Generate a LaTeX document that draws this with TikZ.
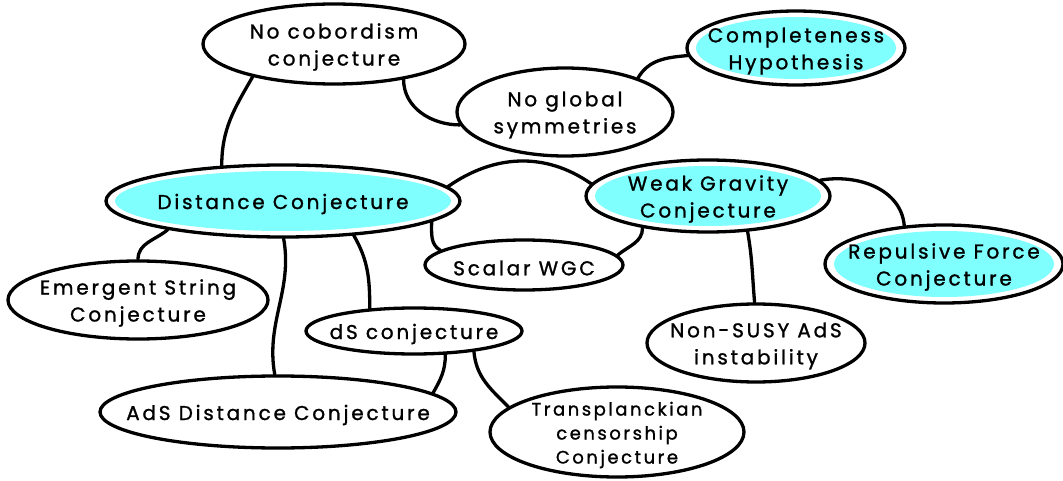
\documentclass[tikz,border=0pt]{standalone}
\usepackage{fontspec}
\setmainfont{Poppins}[LetterSpace=14, FakeBold=1.2]
\usetikzlibrary{shapes.geometric,calc}
\definecolor{hl}{RGB}{128,255,255}
\begin{document}
\begin{tikzpicture}[line width=3.3pt,
  bub/.style={ellipse, draw=black, inner sep=0pt},
  txt/.style={align=center, inner sep=0pt, yshift=-3pt, font=\fontsize{20}{27}\selectfont},
  hlbub/.style={bub, path picture={\fill[hl] let \p1=(path picture bounding box.north east), \p2=(path picture bounding box.center) in (\p2) ellipse [x radius={\x1-\x2-9pt}, y radius={\y1-\y2-6pt}];}},
  link/.style={line cap=round}]
\useasboundingbox (0,0) rectangle (1063pt,-481pt);
\begin{scope}[x=1pt,y=1pt]
\node[bub, minimum width=262pt, minimum height=80pt, label={[txt]center:{No cobordism\\conjecture}}] (nocob) at (334,-44) {};
\node[hlbub, minimum width=218pt, minimum height=74pt, label={[txt]center:{Completeness\\Hypothesis}}] (compl) at (796,-48) {};
\node[bub, minimum width=216pt, minimum height=88pt, label={[txt]center:{No global\\symmetries}}] (noglob) at (565,-112) {};
\node[hlbub, minimum width=354pt, minimum height=72pt, label={[txt]center:{Distance Conjecture}}] (dist) at (283,-201) {};
\node[hlbub, minimum width=244pt, minimum height=72pt, label={[txt]center:{Weak Gravity\\Conjecture}}] (wgc) at (708,-196) {};
\node[hlbub, minimum width=238pt, minimum height=78pt, label={[txt]center:{Repulsive Force\\Conjecture}}] (rfc) at (944,-264) {};
\node[bub, minimum width=198pt, minimum height=50pt, label={[txt]center:{Scalar WGC}}] (swgc) at (524,-265) {};
\node[bub, minimum width=260pt, minimum height=78pt, label={[txt]center:{Emergent String\\Conjecture}}] (esc) at (138,-300) {};
\node[bub, minimum width=216pt, minimum height=46pt, label={[txt]center:{dS conjecture}}] (ds) at (414,-331) {};
\node[bub, minimum width=218pt, minimum height=78pt, label={[txt]center:{Non-SUSY AdS\\instability}}] (nsads) at (756,-343) {};
\node[bub, minimum width=356pt, minimum height=72pt, label={[txt]center:{AdS Distance Conjecture}}] (adsd) at (278,-412) {};
\node[bub, minimum width=254pt, minimum height=90pt, label={[txt, font=\fontsize{18}{24}\selectfont]center:{Transplanckian\\censorship\\Conjecture}}] (tcc) at (617,-432) {};

\draw[link] (nocob.202) to[out=240,in=90] (dist.150);
\draw[link] (nocob.333) to[out=-90,in=180] (noglob.187);
\draw[link] (noglob.25) to[out=60,in=185] (compl.184);
\draw[link] (dist.5) to[out=35,in=145] (wgc.174);
\draw[link] (dist.352) to[out=-90,in=150] (swgc.170);
\draw[link] (wgc.206) to[out=-90,in=40] (swgc.6);
\draw[link] (wgc.8) to[out=10,in=95] (rfc.136);
\draw[link] (wgc.318) to[out=-80,in=95] (nsads.92);
\draw[link] (dist.194) to[out=220,in=90] (esc.90);
\draw[link] (dist.271) to[out=-80,in=100] (adsd.95);
\draw[link] (dist.334) to[out=-60,in=90] (ds.153);
\draw[link] (ds.323) to[out=-90,in=60] (adsd.7);
\draw[link] (ds.341) to[out=-85,in=135] (tcc.167);
\end{scope}
\end{tikzpicture}
\end{document}
